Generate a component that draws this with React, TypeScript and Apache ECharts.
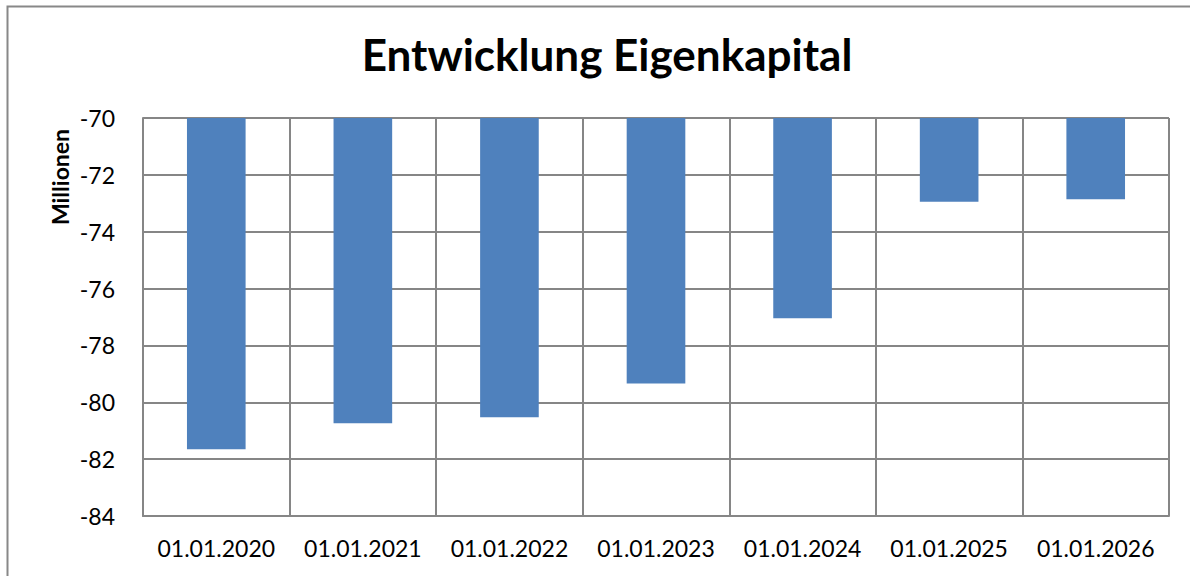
import React, { useEffect, useRef } from "react";
import * as echarts from "echarts";

const categories = [
  "01.01.2020",
  "01.01.2021",
  "01.01.2022",
  "01.01.2023",
  "01.01.2024",
  "01.01.2025",
  "01.01.2026",
];
const values = [-81.65, -80.74, -80.53, -79.34, -77.04, -72.95, -72.86];
const titleText = "Entwicklung Eigenkapital";
const yAxisName = "Millionen";

export default function App() {
  const ref = useRef<HTMLDivElement>(null);
  useEffect(() => {
    if (!ref.current) return;
    const chart = echarts.init(ref.current, undefined, { renderer: "svg" });
    const font = "Lato, 'Open Sans', sans-serif";
    chart.setOption({
      animation: false,
      backgroundColor: "#ffffff",
      textStyle: { fontFamily: font },
      title: {
        text: titleText,
        left: 602,
        textAlign: "center",
        top: 27,
        textStyle: { fontFamily: font, fontWeight: "bold", fontSize: 44, color: "#000" },
      },
      graphic: [
        {
          type: "rect",
          shape: { x: 7.5, y: 6.5, width: 1200, height: 600 },
          style: { fill: "none", stroke: "#888888", lineWidth: 2 },
          silent: true,
          z: -10,
        },
        {
          type: "text",
          x: 60,
          y: 177,
          rotation: Math.PI / 2,
          style: {
            text: yAxisName,
            fontFamily: font,
            fontWeight: "bold",
            fontSize: 23,
            fill: "#000",
            align: "center",
            verticalAlign: "middle",
          },
        },
      ],
      grid: { left: 143, right: 21, top: 118, bottom: 60, containLabel: false },
      xAxis: {
        type: "category",
        data: categories,
        boundaryGap: true,
        axisLine: { show: true, lineStyle: { color: "#868686", width: 2 } },
        axisTick: { show: false },
        splitLine: { show: true, lineStyle: { color: "#868686", width: 2 } },
        axisLabel: { fontFamily: font, fontSize: 23, color: "#000", margin: 20, interval: 0 },
      },
      yAxis: {
        type: "value",
        min: -84,
        max: -70,
        interval: 2,
        axisLine: { show: true, lineStyle: { color: "#868686", width: 2 } },
        axisTick: { show: false },
        splitLine: { show: true, lineStyle: { color: "#868686", width: 2 } },
        axisLabel: { fontFamily: font, fontSize: 23, color: "#000", margin: 28 },
      },
      series: [
        {
          type: "bar",
          data: values,
          barWidth: "40%",
          clip: true,
          itemStyle: { color: "#4F81BD" },
        },
      ],
    });
    return () => chart.dispose();
  }, []);
  return (
    <div
      ref={ref}
      style={{ position: "fixed", left: 0, top: 0, width: 1190, height: 576 }}
    />
  );
}
